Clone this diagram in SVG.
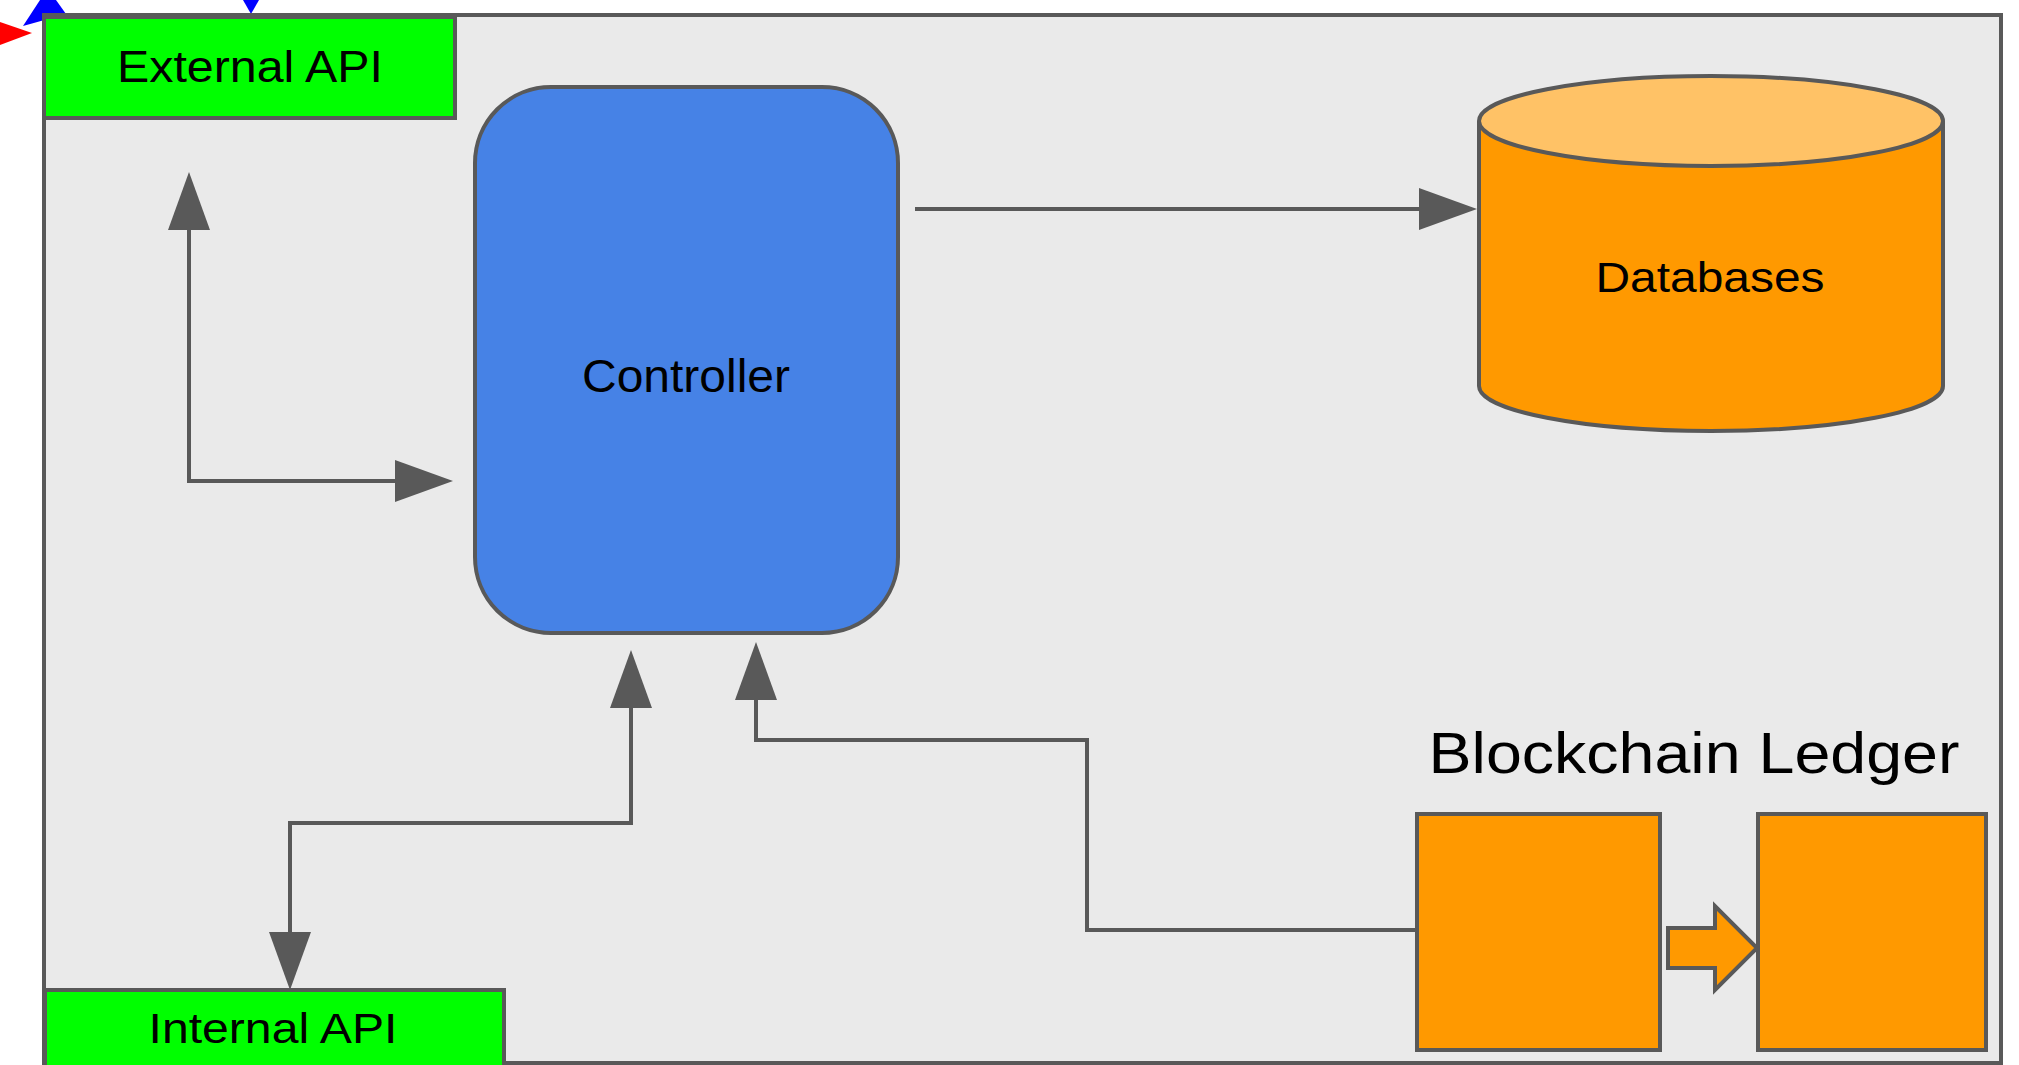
<svg xmlns="http://www.w3.org/2000/svg" width="2019" height="1065" viewBox="0 0 2019 1065">
<style>
.lbl{font-family:"Liberation Sans",Arial,Helvetica,sans-serif;fill:#000;text-anchor:middle}
.node{stroke:#595959;stroke-width:4}
.conn{fill:none;stroke:#595959;stroke-width:4}
</style>
<defs>
<marker id="ah" markerUnits="userSpaceOnUse" markerWidth="58" markerHeight="42" viewBox="-2 0 58 42" refX="0" refY="21" orient="auto-start-reverse" overflow="visible">
<path d="M-2,0 L56,21 L-2,42 Z" fill="#595959"/>
</marker>
</defs>
<rect x="0" y="0" width="2019" height="1065" fill="#ffffff"/>
<g id="fragments">
<polygon points="0,22 32,33 0,45" fill="#ff0000"/>
<polygon points="23,26 40,0 56,0 66,14" fill="#0000ff"/>
<polygon points="243,0 259,0 251,14" fill="#0000ff"/>
</g>
<g id="container">
<rect x="44" y="15" width="1957" height="1048" fill="#eaeaea" stroke="#595959" stroke-width="4"/>
</g>
<g id="connectors">
<path class="conn" d="M189,228 L189,481 L397,481" marker-start="url(#ah)" marker-end="url(#ah)"/>
<path class="conn" d="M915,209 L1421,209" marker-end="url(#ah)"/>
<path class="conn" d="M631,706 L631,823 L290,823 L290,934" marker-start="url(#ah)" marker-end="url(#ah)"/>
<path class="conn" d="M1417,930 L1087,930 L1087,740 L756,740 L756,698" marker-end="url(#ah)"/>
</g>
<g id="external-api">
<rect class="node" x="44" y="17" width="411" height="101" fill="#00ff00"/>
<text class="lbl" x="250" y="82" font-size="45" textLength="266" lengthAdjust="spacingAndGlyphs">External API</text>
</g>
<g id="internal-api">
<rect class="node" x="45" y="990" width="459" height="90" fill="#00ff00"/>
<text class="lbl" x="273" y="1043" font-size="43" textLength="249" lengthAdjust="spacingAndGlyphs">Internal API</text>
</g>
<g id="controller">
<rect class="node" x="475" y="87" width="423" height="546" rx="76" ry="76" fill="#4682e6"/>
<text class="lbl" x="686" y="392" font-size="47" textLength="208" lengthAdjust="spacingAndGlyphs">Controller</text>
</g>
<g id="databases">
<path class="node" d="M1479,121 L1479,386 A232,45 0 0 0 1943,386 L1943,121" fill="#ff9900"/>
<ellipse class="node" cx="1711" cy="121" rx="232" ry="45" fill="#ffc266"/>
<text class="lbl" x="1710" y="292" font-size="43" textLength="229" lengthAdjust="spacingAndGlyphs">Databases</text>
</g>
<g id="blockchain-ledger">
<text class="lbl" x="1694" y="773" font-size="57" textLength="531" lengthAdjust="spacingAndGlyphs">Blockchain Ledger</text>
<rect class="node" x="1417" y="814" width="243" height="236" fill="#ff9900"/>
<rect class="node" x="1758" y="814" width="228" height="236" fill="#ff9900"/>
<polygon class="node" points="1668,928 1715,928 1715,906 1757,948 1715,990 1715,968 1668,968" fill="#ff9900"/>
</g>
</svg>
